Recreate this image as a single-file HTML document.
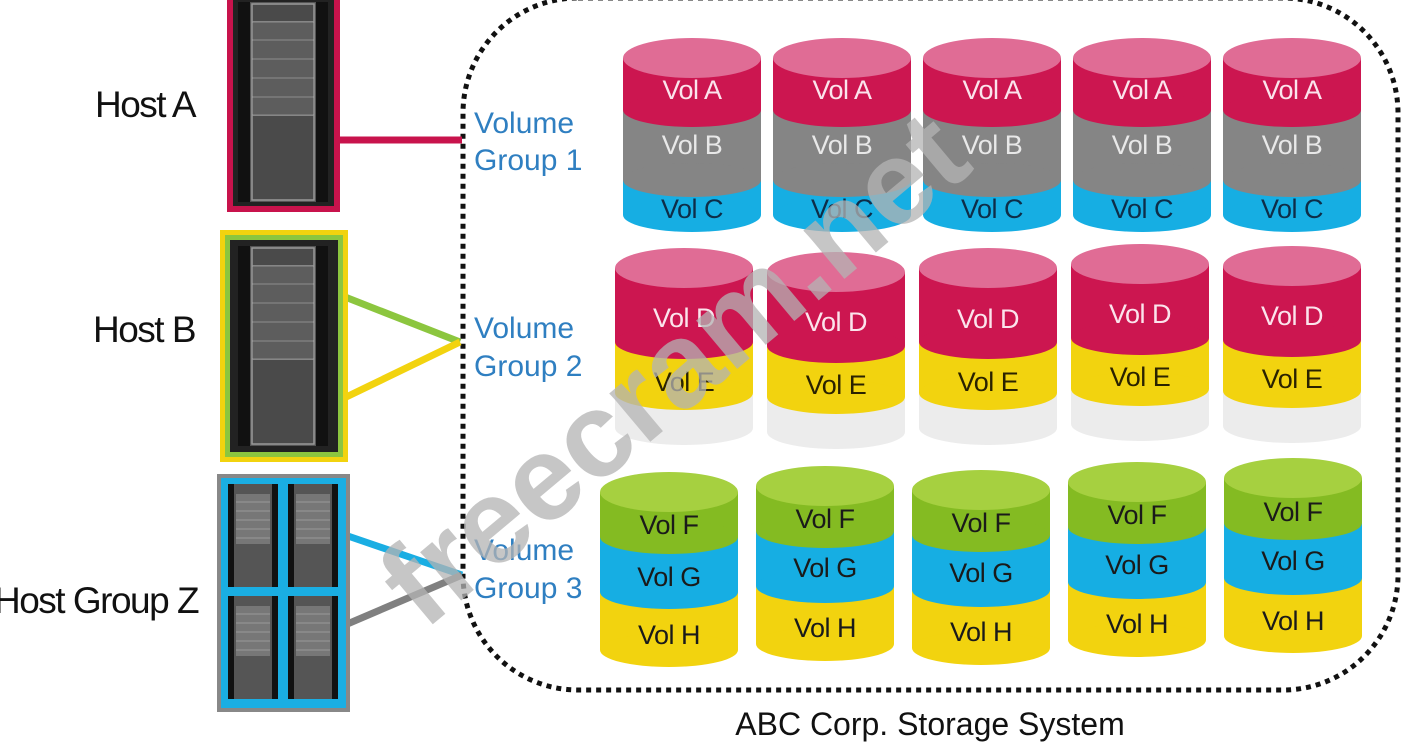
<!DOCTYPE html>
<html><head><meta charset="utf-8"><style>
html,body{margin:0;padding:0;background:#fff;width:1403px;height:742px;overflow:hidden}
svg{display:block}
text{font-family:"Liberation Sans",sans-serif}
</style></head><body>
<svg width="1403" height="742" viewBox="0 0 1403 742" xmlns="http://www.w3.org/2000/svg">
<defs>
<g id="c1">
 <rect x="-69" y="0" width="138" height="157" fill="#16aee3"/><ellipse cx="0" cy="157" rx="69" ry="17" fill="#16aee3"/>
 <rect x="-69" y="0" width="138" height="122" fill="#858585"/><ellipse cx="0" cy="122" rx="69" ry="17" fill="#858585"/>
 <rect x="-69" y="0" width="138" height="52" fill="#cc1650"/><ellipse cx="0" cy="52" rx="69" ry="17" fill="#cc1650"/>
 <ellipse cx="0" cy="0" rx="69" ry="20" fill="#e06c95"/>
</g>
<g id="c2">
 <rect x="-69" y="0" width="138" height="160" fill="#ececec"/><ellipse cx="0" cy="160" rx="69" ry="17" fill="#ececec"/>
 <rect x="-69" y="0" width="138" height="125" fill="#f2d30f"/><ellipse cx="0" cy="125" rx="69" ry="17" fill="#f2d30f"/>
 <rect x="-69" y="0" width="138" height="74" fill="#cc1650"/><ellipse cx="0" cy="74" rx="69" ry="17" fill="#cc1650"/>
 <ellipse cx="0" cy="0" rx="69" ry="20" fill="#e06c95"/>
</g>
<g id="c3">
 <rect x="-69" y="0" width="138" height="158" fill="#f2d30f"/><ellipse cx="0" cy="158" rx="69" ry="17" fill="#f2d30f"/>
 <rect x="-69" y="0" width="138" height="100" fill="#16aee3"/><ellipse cx="0" cy="100" rx="69" ry="17" fill="#16aee3"/>
 <rect x="-69" y="0" width="138" height="45" fill="#84bb22"/><ellipse cx="0" cy="45" rx="69" ry="17" fill="#84bb22"/>
 <ellipse cx="0" cy="0" rx="69" ry="20" fill="#a6d040"/>
</g>
<g id="rack">
 <rect x="0" y="0" width="90" height="200" fill="#555"/>
 <rect x="0" y="0" width="12" height="200" fill="#111"/><rect x="78" y="0" width="12" height="200" fill="#111"/>
 <rect x="14" y="2" width="62" height="196" fill="#4a4a4a" stroke="#999" stroke-width="1.5"/>
 <g stroke="#999" stroke-width="1.5"><line x1="14" y1="20" x2="76" y2="20"/><line x1="14" y1="38" x2="76" y2="38"/><line x1="14" y1="57" x2="76" y2="57"/><line x1="14" y1="76" x2="76" y2="76"/><line x1="14" y1="95" x2="76" y2="95"/><line x1="14" y1="113" x2="76" y2="113"/></g>
 <rect x="15" y="20" width="60" height="93" fill="#6a6a6a" opacity="0.6"/>
</g>
<g id="mini">
 <rect x="0" y="0" width="50" height="103" fill="#555"/>
 <rect x="0" y="0" width="6" height="103" fill="#111"/><rect x="44" y="0" width="6" height="103" fill="#111"/>
 <rect x="8" y="10" width="34" height="50" fill="#777"/>
 <g stroke="#999" stroke-width="1"><line x1="8" y1="18" x2="42" y2="18"/><line x1="8" y1="27" x2="42" y2="27"/><line x1="8" y1="36" x2="42" y2="36"/><line x1="8" y1="45" x2="42" y2="45"/><line x1="8" y1="54" x2="42" y2="54"/></g>
</g>
</defs>

<rect x="463" y="-2" width="935" height="692" rx="115" ry="115" fill="none" stroke="#111" stroke-width="5" stroke-dasharray="5 5"/>

<line x1="340" y1="140" x2="462" y2="140" stroke="#c8134c" stroke-width="7"/>
<line x1="340" y1="295" x2="460" y2="342" stroke="#8cc63f" stroke-width="7"/>
<line x1="340" y1="400" x2="460" y2="342" stroke="#f2d30f" stroke-width="7"/>
<line x1="345" y1="535" x2="462" y2="575" stroke="#1aaee3" stroke-width="7"/>
<line x1="345" y1="625" x2="462" y2="575" stroke="#808080" stroke-width="7"/>

<rect x="227" y="-5" width="113" height="217" fill="#c8134c"/>
<rect x="233" y="0" width="101" height="206" fill="#222"/>
<use href="#rack" x="238" y="2"/>
<rect x="220" y="230" width="128" height="232" fill="#f2d30f"/>
<rect x="225" y="235" width="118" height="222" fill="#8cc63f"/>
<rect x="230" y="240" width="108" height="212" fill="#222"/>
<use href="#rack" x="238" y="246"/>
<rect x="217" y="474" width="133" height="238" fill="#888"/>
<rect x="221" y="478" width="125" height="230" fill="#1aaee3"/>
<use href="#mini" x="228" y="484"/><use href="#mini" x="288" y="484"/>
<use href="#mini" x="228" y="596"/><use href="#mini" x="288" y="596"/>

<g font-size="37" fill="#111" letter-spacing="-1.5">
<text x="95" y="117">Host A</text>
<text x="93" y="342">Host B</text>
<text x="-6" y="613">Host Group Z</text>
</g>
<g font-size="30" fill="#2f7fc1">
<text x="474" y="133">Volume</text><text x="474" y="170">Group 1</text>
<text x="474" y="338">Volume</text><text x="474" y="376">Group 2</text>
<text x="474" y="560">Volume</text><text x="474" y="598">Group 3</text>
</g>

<use href="#c1" x="692" y="58"/><use href="#c1" x="842" y="58"/><use href="#c1" x="992" y="58"/><use href="#c1" x="1142" y="58"/><use href="#c1" x="1292" y="58"/>
<g font-size="27" text-anchor="middle" letter-spacing="-0.5">
<g fill="#fbe4ec"><text x="692" y="99">Vol A</text><text x="842" y="99">Vol A</text><text x="992" y="99">Vol A</text><text x="1142" y="99">Vol A</text><text x="1292" y="99">Vol A</text></g>
<g fill="#e8e8e8"><text x="692" y="154">Vol B</text><text x="842" y="154">Vol B</text><text x="992" y="154">Vol B</text><text x="1142" y="154">Vol B</text><text x="1292" y="154">Vol B</text></g>
<g fill="#0e2d48"><text x="692" y="218">Vol C</text><text x="842" y="218">Vol C</text><text x="992" y="218">Vol C</text><text x="1142" y="218">Vol C</text><text x="1292" y="218">Vol C</text></g>
</g>

<use href="#c2" x="684" y="268"/><use href="#c2" x="836" y="272"/><use href="#c2" x="988" y="268"/><use href="#c2" x="1140" y="264"/><use href="#c2" x="1292" y="266"/>
<g font-size="27" text-anchor="middle" letter-spacing="-0.5">
<g fill="#fbe4ec"><text x="684" y="327">Vol D</text><text x="836" y="331">Vol D</text><text x="988" y="328">Vol D</text><text x="1140" y="323">Vol D</text><text x="1292" y="325">Vol D</text></g>
<g fill="#2a2200"><text x="684" y="391">Vol E</text><text x="836" y="394">Vol E</text><text x="988" y="391">Vol E</text><text x="1140" y="386">Vol E</text><text x="1292" y="388">Vol E</text></g>
</g>

<use href="#c3" x="669" y="492"/><use href="#c3" x="825" y="486"/><use href="#c3" x="981" y="490"/><use href="#c3" x="1137" y="482"/><use href="#c3" x="1293" y="478"/>
<g font-size="27" text-anchor="middle" fill="#1a1a1a" letter-spacing="-0.5">
<text x="669" y="534">Vol F</text><text x="825" y="528">Vol F</text><text x="981" y="532">Vol F</text><text x="1137" y="524">Vol F</text><text x="1293" y="521">Vol F</text>
<text x="669" y="586">Vol G</text><text x="825" y="577">Vol G</text><text x="981" y="582">Vol G</text><text x="1137" y="574">Vol G</text><text x="1293" y="570">Vol G</text>
<text x="669" y="644">Vol H</text><text x="825" y="637">Vol H</text><text x="981" y="641">Vol H</text><text x="1137" y="633">Vol H</text><text x="1293" y="630">Vol H</text>
</g>

<text x="930" y="735" font-size="32" text-anchor="middle" fill="#111">ABC Corp. Storage System</text>

<text x="700" y="400" font-size="120" font-weight="bold" text-anchor="middle" fill="#b4b4b4" opacity="0.75" transform="rotate(-40 700 400)">freecram.net</text>
</svg>
</body></html>
